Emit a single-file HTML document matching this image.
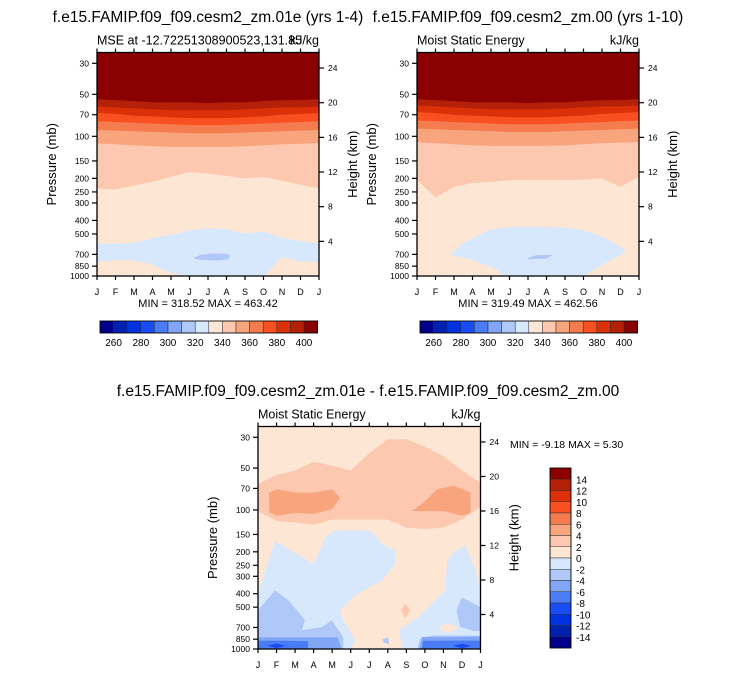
<!DOCTYPE html>
<html><head><meta charset="utf-8"><style>
body{margin:0;background:#fff;}
svg{display:block;font-family:"Liberation Sans",sans-serif;}
</style></head><body>
<svg id="c" width="733" height="674" viewBox="0 0 733 674" xmlns="http://www.w3.org/2000/svg"></svg>
<script>
// ---------- data ----------
const monthLabels = ["J","F","M","A","M","J","J","A","S","O","N","D","J"];
const pressureTicks = [30,50,70,100,150,200,250,300,400,500,700,850,1000];
const heightTicks = [4,8,12,16,20,24];
const topLevels = [260,280,300,320,340,360,380,400];
const diffLevels = [14,12,10,8,6,4,2,0,-2,-4,-6,-8,-10,-12,-14];
const palette = ["#00008b","#0020b0","#0033e0","#1a4cf5","#4a7cf5","#80a6f5","#b0c8f8","#d8e8fc","#fde6d4","#fdc8b0","#f8a57e","#f57c4e","#f85020","#dc3008","#b42008","#8b0000"];

// Panel A band top-boundaries (pressure, mb) per month J..J
const aB15 = [54,55,56,57,57,57,58,57,57,56,55,55,54];
const aB14 = [61,62,63,64,65,65,65,65,64,63,62,62,61];
const aB13 = [68,69,71,72,73,74,74,74,73,72,70,69,68];
const aB12 = [78,79,80,81,82,83,83,83,82,81,80,79,78];
const aB11 = [90,91,92,93,94,95,95,95,94,93,92,91,90];
const aB10 = [112,114,116,118,119,119,119,119,118,116,114,113,112];
const aB9 = [236,240,225,212,195,180,185,192,200,195,208,222,236];
const aB8 = [585,588,580,535,510,469,455,462,496,480,535,560,585];
const aLow = [790,770,770,830,950,1000,1000,1000,1000,1000,730,790,790];
const aBlobM = [5.25,5.6,6.2,6.9,7.2,7.1,6.5,5.7,5.3];
const aBlobP = [740,705,690,690,705,760,775,770,755];

// Panel B
const bB15 = [54,55,56,57,57,57,58,57,57,56,55,55,54];
const bB14 = [60,61,62,63,64,64,64,64,63,62,61,61,60];
const bB13 = [67,68,70,71,72,73,73,73,72,71,69,68,67];
const bB12 = [77,78,79,80,81,82,82,82,81,80,79,78,77];
const bB11 = [88,89,90,91,92,93,93,93,92,91,90,89,88];
const bB10 = [110,112,114,116,117,117,117,117,116,114,112,111,110];
const bB9 = [204,274,230,216,212,206,206,206,206,204,200,230,195];
const bIsM = [1.85,2.5,3.0,4.0,5.0,6.0,7.0,8.0,9.0,10.0,11.3,11.0,10.0,9.0,8.8,4.65,4.4,3.0,1.85];
const bIsP = [688,585,538,464,447,447,447,450,469,524,652,708,834,1000,1000,1000,906,769,708];
const bBlobM = [6.0,6.4,7.35,7.0,6.0];
const bBlobP = [745,712,705,750,760];

// Panel C (difference)
const cPeachTop = [65,56,52,45,48,52,39,31,31,35,41,52,64];
const cPeachBot = [102,120,123,128,117,117,117,117,134,137,134,117,95];
const cOrLM = [0.58,1.03,2.01,3.0,3.99,4.44,3.99,3.0,2.01,1.03,0.62];
const cOrLP = [75,71,75,75,71,82,99,107,105,110,104];
const cOrRM = [8.31,9.03,9.66,10.56,11.46,11.46,11.0,10.02,9.12];
const cOrRP = [102,86,71,67,75,105,110,102,102];
const cBlueM = [0,0.92,3.0,3.7,4.16,6.1,6.7,7.4,7.4,6.7,5.24,4.43,4.6,5.24,5.0,7.8,7.6,8.67,9.56,10.1,10.2,10.65,11.2,11.73,12,12,0];
const cBlueP = [398,167,244,153,141,141,176,196,244,321,411,527,621,863,1000,1000,732,588,447,379,231,196,181,272,379,1000,1000];
const cMidLM = [0,0.92,1.64,2.54,2.36,3.44,3.98,4.34,4.6,4.6,0];
const cMidLP = [527,379,447,621,732,696,621,732,821,1000,1000];
const cMidRM = [12,11.0,10.7,10.9,11.6,12];
const cMidRP = [501,425,527,690,740,740];
const cMidBM = [8.76,9.5,12,12,8.6];
const cMidBP = [830,800,800,1000,1000];
const cMidSM = [6.7,7.05,7.05,6.8];
const cMidSP = [850,830,920,900];
const cM3LM = [0,4.3,4.5,0];
const cM3LP = [825,825,1000,1000];
const cM3RM = [8.7,8.85,12,12];
const cM3RP = [1000,820,815,1000];
const cM4LM = [0,1.5,2.7,2.7,0];
const cM4LP = [870,872,880,990,990];
const cM4RM = [8.85,8.9,10.5,12,12];
const cM4RP = [990,875,870,870,990];
const cM5LM = [0.5,1.0,1.5,1.0];
const cM5LP = [950,915,950,985];
const cM5RM = [10.5,11.0,11.5,11.0];
const cM5RP = [950,915,950,985];
const cOvalM = [9.7,10.2,10.8,10.3];
const cOvalP = [710,650,700,770];
const cDiaM = [7.95,8.2,7.95,7.7];
const cDiaP = [470,527,600,527];

// ---------- helpers ----------
const NS="http://www.w3.org/2000/svg";
const svg=document.getElementById('c');
function mk(tag,attrs,parent){const e=document.createElementNS(NS,tag);for(const k in attrs)e.setAttribute(k,attrs[k]);(parent||svg).appendChild(e);return e;}
function txt(s,x,y,size,anchor,parent,rot){const t=mk('text',{x:x,y:y,'font-size':size,'text-anchor':anchor||'start',fill:'#000'},parent);if(rot)t.setAttribute('transform','rotate(-90 '+x+' '+y+')');t.textContent=s;return t;}

function panel(name,L,T,W,H,draw,titleL,titleR){
  const g=mk('g',{});
  
  
  const pTop=25.1;
  const xs=m=>L+m*W/12;
  const ys=p=>T+H-H*Math.log10(1000/p)/Math.log10(1000/pTop);
  const cid=name+'-clip';
  const cp=mk('clipPath',{id:cid},g);mk('rect',{x:L,y:T,width:W,height:H},cp);
  const plot=mk('g',{'clip-path':'url(#'+cid+')'},g);
  
  
  draw(plot,xs,ys,L,T,W,H);
  mk('rect',{x:L,y:T,width:W,height:H,fill:'none',stroke:'#000','stroke-width':1.3},g);
  monthLabels.forEach((m,i)=>{const x=xs(i);
    mk('line',{x1:x,x2:x,y1:T+H,y2:T+H+4,stroke:'#000','stroke-width':1.2},g);
    mk('line',{x1:x,x2:x,y1:T,y2:T-4,stroke:'#000','stroke-width':1.2},g);
    const t=txt(m,x,T+H+19,9,'middle',g);
    
    });
  pressureTicks.forEach(p=>{const y=ys(p);
    mk('line',{x1:L,x2:L-5,y1:y,y2:y,stroke:'#000','stroke-width':1.2},g);
    const t=txt(String(p),L-8,y+3,8.5,'end',g);
    
    });
  heightTicks.forEach(z=>{const y=ys(1000*Math.exp(-z/7));
    mk('line',{x1:L+W,x2:L+W+5,y1:y,y2:y,stroke:'#000','stroke-width':1.2},g);
    const t=txt(String(z),L+W+9,y+3,8.5,'start',g);
    
    });
  const yt=txt('Pressure (mb)',L-41,T+H/2,13,'middle',g,true);
  
  
  const ht=txt('Height (km)',L+W+38,T+H/2,13,'middle',g,true);
  
  
  const a=txt(titleL,L,T-8,12.5,'start',g);
  
  
  const b=txt(titleR,L+W,T-8,12.5,'end',g);
  
  
}
function bandDown(g,xs,ys,arr,col){let d='M'+xs(0)+','+ys(1000);arr.forEach((p,i)=>d+='L'+xs(i)+','+ys(p));d+='L'+xs(12)+','+ys(1000)+'Z';const e=mk('path',{d:d,fill:col},g);}
function poly(g,xs,ys,M,P,col){let d='';M.forEach((m,i)=>d+=(i?'L':'M')+xs(m)+','+ys(P[i]));d+='Z';const e=mk('path',{d:d,fill:col},g);}
function hColorbar(name,L,T,W,H){const g=mk('g',{});
  const bw=W/palette.length;
  palette.forEach((c,i)=>{const r=mk('rect',{x:L+i*bw,y:T,width:bw,height:H,fill:c,stroke:'#333','stroke-width':0.5},g);});
  mk('rect',{x:L,y:T,width:W,height:H,fill:'none',stroke:'#000','stroke-width':0.8},g);
  topLevels.forEach((v,i)=>{const t=txt(String(v),L+(2*i+1)*bw,T+25,10,'middle',g);});}

// ---------- titles ----------
let t;
t=txt('f.e15.FAMIP.f09_f09.cesm2_zm.01e (yrs 1-4)',208,22,15.5,'middle');


t=txt('f.e15.FAMIP.f09_f09.cesm2_zm.00 (yrs 1-10)',528,22,15.5,'middle');


t=txt('f.e15.FAMIP.f09_f09.cesm2_zm.01e - f.e15.FAMIP.f09_f09.cesm2_zm.00',368,396,15.5,'middle');



// ---------- panel A ----------
panel('panel-01e',97,52.5,222,223.5,(g,xs,ys,L,T,W,H)=>{
  mk('rect',{x:L,y:T,width:W,height:H,fill:palette[15]},g);
  [[aB15,14],[aB14,13],[aB13,12],[aB12,11],[aB11,10],[aB10,9],[aB9,8],[aB8,7],[aLow,8]].forEach(([a,c])=>bandDown(g,xs,ys,a,palette[c]));
  poly(g,xs,ys,aBlobM,aBlobP,palette[6]);
},'MSE at -12.72251308900523,131.85','kJ/kg');
t=txt('MIN = 318.52 MAX = 463.42',208,307,11,'middle');


hColorbar('left-colorbar',100,321,217.6,12);

// ---------- panel B ----------
panel('panel-00',417,52.5,222,223.5,(g,xs,ys,L,T,W,H)=>{
  mk('rect',{x:L,y:T,width:W,height:H,fill:palette[15]},g);
  [[bB15,14],[bB14,13],[bB13,12],[bB12,11],[bB11,10],[bB10,9],[bB9,8]].forEach(([a,c])=>bandDown(g,xs,ys,a,palette[c]));
  poly(g,xs,ys,bIsM,bIsP,palette[7]);
  poly(g,xs,ys,bBlobM,bBlobP,palette[6]);
},'Moist Static Energy','kJ/kg');
t=txt('MIN = 319.49 MAX = 462.56',528,307,11,'middle');


hColorbar('right-colorbar',420,321,217.6,12);

// ---------- panel C ----------
panel('panel-difference',258,426.5,222.5,222.5,(g,xs,ys,L,T,W,H)=>{
  mk('rect',{x:L,y:T,width:W,height:H,fill:palette[8]},g);
  const M=monthLabels.map((_,i)=>i);
  poly(g,xs,ys,M.concat(M.slice().reverse()),cPeachTop.concat(cPeachBot.slice().reverse()),palette[9]);
  poly(g,xs,ys,cOrLM,cOrLP,palette[10]);
  poly(g,xs,ys,cOrRM,cOrRP,palette[10]);
  poly(g,xs,ys,cBlueM,cBlueP,palette[7]);
  poly(g,xs,ys,cOvalM,cOvalP,palette[8]);
  poly(g,xs,ys,cDiaM,cDiaP,palette[9]);
  poly(g,xs,ys,cMidLM,cMidLP,palette[6]);
  poly(g,xs,ys,cMidRM,cMidRP,palette[6]);
  poly(g,xs,ys,cMidBM,cMidBP,palette[6]);
  poly(g,xs,ys,cMidSM,cMidSP,palette[6]);
  poly(g,xs,ys,cM3LM,cM3LP,palette[5]);
  poly(g,xs,ys,cM3RM,cM3RP,palette[5]);
  poly(g,xs,ys,cM4LM,cM4LP,palette[4]);
  poly(g,xs,ys,cM4RM,cM4RP,palette[4]);
  poly(g,xs,ys,cM5LM,cM5LP,palette[3]);
  poly(g,xs,ys,cM5RM,cM5RP,palette[3]);
},'Moist Static Energy','kJ/kg');
t=txt('MIN =  -9.18 MAX =   5.30',510,448,10.5,'start');


(function(){const g=mk('g',{});
  const L=550,T=468,W=21,H=180,bh=H/palette.length;
  palette.slice().reverse().forEach((c,i)=>{const r=mk('rect',{x:L,y:T+i*bh,width:W,height:bh,fill:c,stroke:'#333','stroke-width':0.5},g);});
  mk('rect',{x:L,y:T,width:W,height:H,fill:'none',stroke:'#000','stroke-width':0.8},g);
  diffLevels.forEach((v,i)=>{const tt=txt(String(v),L+W+5,T+(i+1)*bh+4,10,'start',g);});
})();
</script>
</body></html>
